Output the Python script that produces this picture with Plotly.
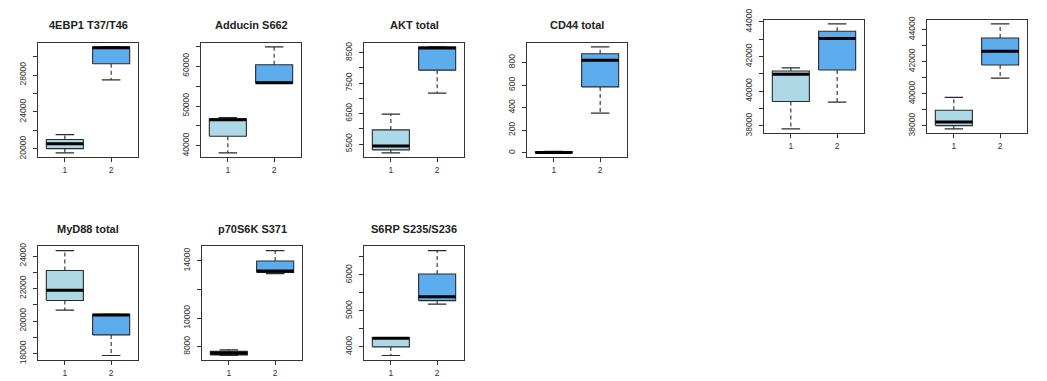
import plotly.graph_objects as go

# Panel titles (the last two panels on the top row carry no title)
titles = ["4EBP1 T37/T46", "Adducin S662", "AKT total", "CD44 total", "", "",
          "MyD88 total", "p70S6K S371", "S6RP S235/S236"]

# Five-number summaries, group 1
g1_low  = [19580, 38290, 5214,  0, 37833, 37820, 20673,  7380, 3759]
g1_q1   = [20030, 42440, 5309,  0, 39407, 38020, 21267,  7425, 4000]
g1_med  = [20560, 46590, 5436,  3, 40981, 38240, 21901,  7536, 4241]
g1_q3   = [21010, 46830, 5966,  8, 41167, 38980, 23109,  7669, 4259]
g1_high = [21540, 47070, 6485, 12, 41352, 39780, 24337,  7779, 4259]

# Five-number summaries, group 2
g2_low  = [27480, 55690, 7174, 351, 39370, 40980, 17881, 13116, 5188]
g2_q1   = [29220, 55690, 7927, 584, 41222, 41800, 19149, 13204, 5286]
g2_med  = [30950, 55850, 8659, 820, 43037, 42660, 20376, 13293, 5393]
g2_q3   = [31040, 60330, 8690, 878, 43463, 43480, 20416, 14000, 6027]
g2_high = [31040, 64800, 8690, 938, 43889, 44360, 20416, 14729, 6679]

# y-axis tick positions and the labels that are printed
y_ticks = [
    [20000, 22000, 24000, 26000, 28000, 30000],
    [40000, 45000, 50000, 55000, 60000, 65000],
    [5500, 6000, 6500, 7000, 7500, 8000, 8500],
    [0, 200, 400, 600, 800],
    [38000, 39000, 40000, 41000, 42000, 43000, 44000],
    [38000, 39000, 40000, 41000, 42000, 43000, 44000],
    [18000, 19000, 20000, 21000, 22000, 23000, 24000],
    [8000, 10000, 12000, 14000],
    [4000, 4500, 5000, 5500, 6000, 6500],
]
y_labels = [
    [20000, 24000, 28000],
    [40000, 50000, 60000],
    [5500, 6500, 7500, 8500],
    [0, 200, 400, 600, 800],
    [38000, 40000, 42000, 44000],
    [38000, 40000, 42000, 44000],
    [18000, 20000, 22000, 24000],
    [8000, 10000, 14000],
    [4000, 5000, 6000],
]
groups = [1, 2]
group_labels = ["1", "2"]

W, H = 1047, 381
# plot-area pixel boxes: left, right, top, bottom
panel_px = [
    (38, 138, 33, 152), (201, 301, 33, 152), (364, 464, 33, 152), (527, 627, 33, 152),
    (764, 864, 9, 127), (927, 1027, 9, 127),
    (38, 138, 245, 363), (202, 302, 245, 363), (364, 464, 245, 363),
]

FILL = ["#ADD8E6", "#5CACEE"]
EDGE = "#2a2a2a"
HALF_BOX = 0.4
HALF_CAP = 0.2

fig = go.Figure()
layout = dict(
    width=W, height=H, margin=dict(l=0, r=0, t=0, b=0),
    paper_bgcolor="white", plot_bgcolor="white", showlegend=False,
    font=dict(family="Liberation Sans, Arial, sans-serif", color="#333"),
)
annotations = []

for i in range(len(titles)):
    ax = "" if i == 0 else str(i + 1)
    xref, yref = "x" + ax, "y" + ax
    stats = [
        (g1_low[i], g1_q1[i], g1_med[i], g1_q3[i], g1_high[i]),
        (g2_low[i], g2_q1[i], g2_med[i], g2_q3[i], g2_high[i]),
    ]
    for gi, (lo, q1, md, q3, hi) in enumerate(stats):
        c = groups[gi]
        # dashed whiskers
        fig.add_trace(go.Scatter(
            x=[c, c, None, c, c], y=[q3, hi, None, q1, lo], mode="lines",
            line=dict(color=EDGE, width=1.1, dash="4px,3px"),
            xaxis=xref, yaxis=yref, hoverinfo="skip"))
        # whisker end caps
        fig.add_trace(go.Scatter(
            x=[c - HALF_CAP, c + HALF_CAP, None, c - HALF_CAP, c + HALF_CAP],
            y=[hi, hi, None, lo, lo], mode="lines",
            line=dict(color=EDGE, width=1.2),
            xaxis=xref, yaxis=yref, hoverinfo="skip"))
        # box body
        fig.add_trace(go.Scatter(
            x=[c - HALF_BOX, c + HALF_BOX, c + HALF_BOX, c - HALF_BOX, c - HALF_BOX],
            y=[q1, q1, q3, q3, q1], mode="lines", fill="toself",
            fillcolor=FILL[gi], line=dict(color=EDGE, width=1.1),
            xaxis=xref, yaxis=yref, hoverinfo="skip"))
        # median
        fig.add_trace(go.Scatter(
            x=[c - HALF_BOX, c + HALF_BOX], y=[md, md], mode="lines",
            line=dict(color="black", width=3),
            xaxis=xref, yaxis=yref, hoverinfo="skip"))

    vals = [v for s in stats for v in s]
    vmin, vmax = min(vals), max(vals)
    pad = 0.04 * (vmax - vmin)

    l, r, t, b = panel_px[i]
    xdom = [l / W, r / W]
    ydom = [1 - b / H, 1 - t / H]
    axis_common = dict(
        showline=True, mirror=True, linecolor="#333", linewidth=1.2,
        showgrid=False, zeroline=False, ticks="outside", ticklen=4,
        tickcolor="#333", tickwidth=1, tickfont=dict(size=8.5, color="#333"),
    )
    layout["xaxis" + ax] = dict(
        axis_common, domain=xdom, anchor=yref, range=[0.42, 2.58],
        tickvals=groups, ticktext=group_labels, ticklabelstandoff=1,
    )
    layout["yaxis" + ax] = dict(
        axis_common, domain=ydom, anchor=xref, range=[vmin - pad, vmax + pad],
        tickvals=y_ticks[i],
        ticktext=[str(v) if v in y_labels[i] else "" for v in y_ticks[i]],
        tickangle=-90, ticklabelstandoff=4,
    )
    if titles[i]:
        annotations.append(dict(
            text="<b>" + titles[i] + "</b>", xref="paper", yref="paper",
            x=(l + r) / 2 / W, y=1 - (t - 18) / H, xanchor="center", yanchor="middle",
            showarrow=False, font=dict(size=11, color="#222"),
        ))

layout["annotations"] = annotations
fig.update_layout(**layout)
fig.write_html("out.html")
